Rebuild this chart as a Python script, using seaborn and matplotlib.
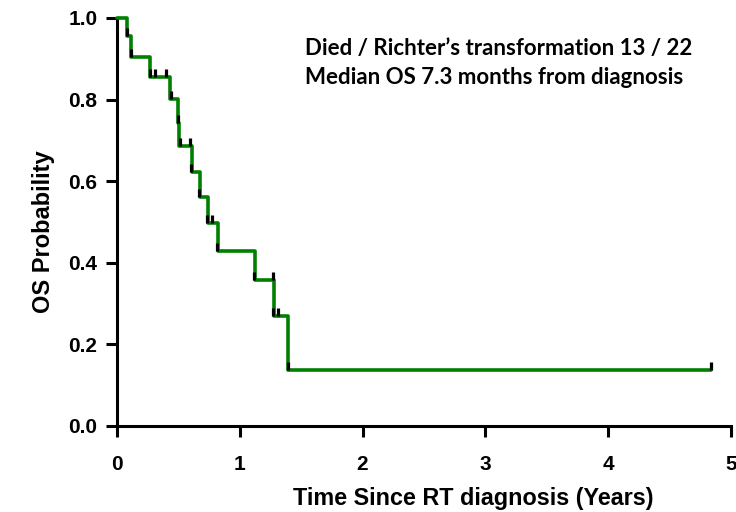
import matplotlib
matplotlib.use("Agg")
import matplotlib.pyplot as plt
import pandas as pd
import seaborn as sns

# Kaplan-Meier steps (time in years, survival after the step)
step_times = [0.0, 0.079, 0.111, 0.269, 0.432, 0.496, 0.503, 0.608, 0.676,
              0.738, 0.820, 1.124, 1.281, 1.395, 4.837]
step_surv = [1.0, 0.956, 0.904, 0.855, 0.801, 0.743, 0.686, 0.623, 0.562,
             0.498, 0.429, 0.358, 0.270, 0.137, 0.137]

# censor marks
cens_times = [0.081, 0.114, 0.265, 0.312, 0.397, 0.436, 0.498, 0.510, 0.594,
              0.603, 0.668, 0.733, 0.774, 0.817, 1.118, 1.267, 1.274, 1.310,
              1.390, 4.837]
cens_surv = [0.956, 0.904, 0.855, 0.855, 0.855, 0.801, 0.743, 0.686, 0.686,
             0.623, 0.562, 0.498, 0.498, 0.429, 0.358, 0.358, 0.270, 0.270,
             0.137, 0.137]

x_ticks = [0, 1, 2, 3, 4, 5]
y_ticks = [0.0, 0.2, 0.4, 0.6, 0.8, 1.0]

sns.set_style("ticks")
plt.rcParams['font.family'] = ['Liberation Sans', 'DejaVu Sans']
plt.rcParams['text.color'] = 'black'
plt.rcParams['axes.labelcolor'] = 'black'
plt.rcParams['xtick.color'] = 'black'
plt.rcParams['ytick.color'] = 'black'

steps = pd.DataFrame({"time": step_times, "surv": step_surv})
cens = pd.DataFrame({"time": cens_times, "surv": cens_surv})

fig = plt.figure(figsize=(7.36, 5.12), dpi=100)
ax = fig.add_axes([0.159, 0.168, 0.834, 0.797])

sns.lineplot(data=steps, x="time", y="surv", ax=ax, color="#008000",
             linewidth=2.6, drawstyle="steps-post", estimator=None,
             sort=False, clip_on=False, zorder=3)
sns.scatterplot(data=cens, x="time", y="surv", ax=ax,
                marker=[(0, 0), (0, 1)], s=135, color="black",
                edgecolor="black", linewidth=2.3, clip_on=False, zorder=4)

ax.set_xlim(0, 5)
ax.set_ylim(0, 1)
ax.set_xticks(x_ticks)
ax.set_yticks(y_ticks)
ax.set_xticklabels([str(v) for v in x_ticks], fontsize=15, fontweight="bold")
ax.set_yticklabels([f"{v:.1f}" for v in y_ticks], fontsize=15, fontweight="bold")
ax.tick_params(axis="both", length=8, width=2.2, color="black")
ax.tick_params(axis="x", pad=13)
ax.tick_params(axis="y", pad=6)
for side in ["left", "bottom"]:
    ax.spines[side].set_linewidth(2.2)
    ax.spines[side].set_color("black")
sns.despine(ax=ax)

ax.set_xlabel("Time Since RT diagnosis (Years)", fontsize=16.8,
              fontweight="bold", labelpad=9, x=0.581)
ax.set_ylabel("OS Probability", fontsize=17, fontweight="bold", labelpad=10,
              y=0.475)

ax.text(0.306, 0.926, "Died / Richter\u2019s transformation 13 / 22",
        transform=ax.transAxes, va="center", ha="left", fontsize=16,
        fontweight="bold", family=["Lato", "DejaVu Sans"])
ax.text(0.306, 0.855, "Median OS 7.3 months from diagnosis",
        transform=ax.transAxes, va="center", ha="left", fontsize=16,
        fontweight="bold", family=["Lato", "DejaVu Sans"])

fig.savefig("out.png", dpi=100)
